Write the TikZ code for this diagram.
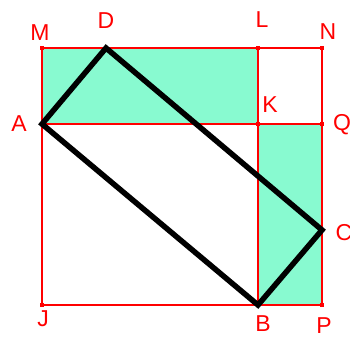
\documentclass[tikz,border=0pt]{standalone}
\usepackage{fontspec}
\setmainfont{Liberation Sans}
\usetikzlibrary{positioning}
\definecolor{aquagreen}{RGB}{136,250,208}
\tikzset{edge/.style = {draw=red, line width=1.4pt},
         side/.style = {draw=black, line width=5.5pt, line join=miter},
         lbl/.style  = {text=red, font=\fontsize{23}{23}\selectfont, inner sep=0pt}}

\begin{document}
\begin{tikzpicture}[x=1pt, y=-1pt]
    \useasboundingbox (0, 0) rectangle (350, 338);
    \coordinate (M) at (42, 48);
    \coordinate (L) at (258, 48);
    \coordinate (N) at (322, 48);
    \coordinate (A) at (42, 124);
    \coordinate (K) at (258, 124);
    \coordinate (Q) at (322, 124);
    \coordinate (J) at (42, 305);
    \coordinate (B) at (258, 305);
    \coordinate (P) at (322, 305);
    \coordinate (D) at (106, 48);
    \coordinate (C) at (322, 230);
    \fill [aquagreen] (A) rectangle (L);
    \fill [aquagreen] (K) rectangle (P);
    \draw [edge] (M) -- (N) -- (P) -- (J) -- cycle;
    \draw [edge] (A) -- (Q);
    \draw [edge] (L) -- (B);
    \foreach \p in {M, L, N, K, Q, P, J}
      \fill [red] (\p) +(-2.2, -2.2) rectangle +(2.2, 2.2);
    \draw [side] (A) -- (D) -- (C) -- (B) -- cycle;
    \node [lbl] (tM) at (40, 33) {M};
    \node [lbl] (tD) at (106, 21) {D};
    \node [lbl] (tL) at (262, 20) {L};
    \node [lbl] (tN) at (328, 32) {N};
    \node [lbl] (tA) at (19, 124) {A};
    \node [lbl] (tK) at (270, 105) {K};
    \node [lbl] (tQ) at (342, 125) {Q};
    \node [lbl] (tC) at (344, 233) {C};
    \node [lbl] (tB) at (263, 324) {B};
    \node [lbl] (tP) at (324, 326) {P};
    \node [lbl] (tJ) at (43, 319) {J};
  \end{tikzpicture}
\end{document}
